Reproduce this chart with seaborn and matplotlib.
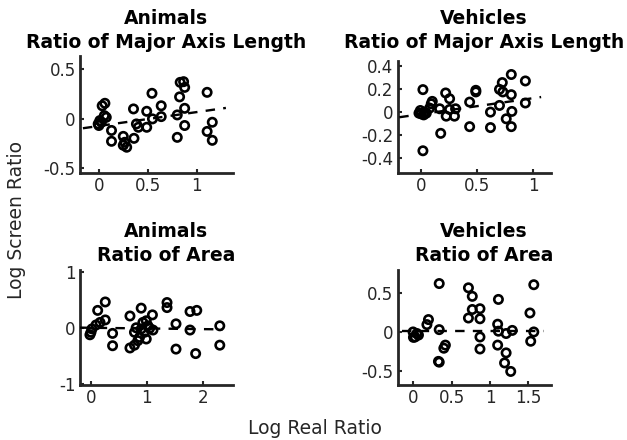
import numpy as np
import pandas as pd
import matplotlib
matplotlib.use("Agg")
import matplotlib.pyplot as plt
import seaborn as sns

# ---------------- data ----------------
# Animals - Ratio of Major Axis Length
a_len_x = [0.056, 0.028, 0.05, 0.07, 0.004, -0.013, 0.02, -0.006, 0.124, 0.124, 0.245, 0.26,
           0.245, 0.28, 0.355, 0.35, 0.38, 0.40, 0.486, 0.486, 0.54, 0.545, 0.635, 0.635,
           0.80, 0.80, 0.824, 0.83, 0.865, 0.876, 0.876, 0.876, 1.107, 1.16, 1.107, 1.16]
a_len_y = [0.155, 0.13, 0.03, 0.013, -0.02, -0.054, -0.037, -0.07, -0.12, -0.23, -0.18, -0.24,
           -0.27, -0.29, -0.20, 0.098, -0.054, -0.088, -0.088, 0.074, 0.256, -0.003, 0.13, 0.02,
           -0.19, 0.037, 0.22, 0.367, 0.374, 0.316, 0.104, -0.07, 0.266, -0.037, -0.13, -0.22]
a_len_fit = [-0.074, 0.14]          # intercept, slope
a_len_fit_x = [-0.17, 1.30]

# Vehicles - Ratio of Major Axis Length
v_len_x = [0.02, 0.02, -0.003, 0.005, 0.035, -0.015, 0.027, 0.05, 0.094, 0.103, 0.08, 0.169,
           0.178, 0.222, 0.257, 0.227, 0.257, 0.31, 0.30, 0.435, 0.435, 0.49, 0.49, 0.62,
           0.62, 0.70, 0.70, 0.725, 0.73, 0.805, 0.805, 0.81, 0.76, 0.805, 0.93, 0.93]
v_len_y = [0.195, -0.335, 0.014, -0.015, 0.0, -0.009, -0.024, -0.009, 0.072, 0.093, 0.035, 0.029,
           -0.184, 0.166, 0.116, -0.035, 0.023, 0.029, -0.035, 0.087, -0.126, 0.189, 0.175, 0.0,
           -0.134, 0.058, 0.197, 0.256, 0.175, 0.326, 0.151, 0.006, -0.058, -0.126, 0.27, 0.079]
v_len_fit = [-0.018, 0.139]
v_len_fit_x = [-0.19, 1.07]

# Animals - Ratio of Area
a_area_x = [0.26, 0.125, 0.26, 0.167, 0.095, 0.023, 0.005, -0.013, 0.39, 0.39, 0.70, 0.90,
            0.70, 0.78, 0.84, 0.78, 0.81, 0.87, 0.90, 0.93, 0.99, 0.96, 0.99, 1.02, 1.10,
            1.11, 1.05, 1.36, 1.36, 1.52, 1.52, 1.77, 1.89, 1.77, 1.87, 2.30, 2.30]
a_area_y = [0.46, 0.31, 0.14, 0.095, 0.05, -0.02, -0.08, -0.125, -0.10, -0.32, 0.21, 0.35,
            -0.36, -0.31, -0.23, -0.08, 0.0, -0.17, -0.02, 0.095, 0.125, -0.08, -0.20, 0.035, 0.23,
            -0.04, -0.01, 0.45, 0.36, 0.07, -0.38, 0.29, 0.31, -0.04, -0.46, 0.035, -0.31]
a_area_fit = [0.0, -0.012]
a_area_fit_x = [-0.19, 2.35]

# Vehicles - Ratio of Area
v_area_x = [0.34, 0.34, 0.42, 0.40, 0.34, 0.33, 0.20, 0.18, 0.0, 0.025, 0.07, 0.005, 0.05,
            0.72, 0.77, 0.77, 0.87, 0.72, 0.87, 0.87, 0.87, 1.11, 1.10, 1.11, 1.10, 1.21,
            1.29, 1.21, 1.19, 1.27, 1.57, 1.52, 1.57, 1.53]
v_area_y = [0.625, 0.03, -0.17, -0.21, -0.39, -0.38, 0.16, 0.095, 0.0, -0.065, -0.04, -0.07, -0.02,
            0.57, 0.46, 0.29, 0.30, 0.18, 0.17, -0.065, -0.22, 0.42, 0.10, 0.01, -0.17, -0.02,
            0.02, -0.27, -0.40, -0.51, 0.61, 0.245, 0.0, -0.12]
v_area_fit = [0.013, 0.0]
v_area_fit_x = [-0.15, 1.70]

titles = [("Animals", "Ratio of Major Axis Length"),
          ("Vehicles", "Ratio of Major Axis Length"),
          ("Animals", "Ratio of Area"),
          ("Vehicles", "Ratio of Area")]

xticks = [[0, 0.5, 1], [0, 0.5, 1], [0, 1, 2], [0, 0.5, 1, 1.5]]
yticks = [[-0.5, 0, 0.5], [-0.4, -0.2, 0, 0.2, 0.4], [-1, 0, 1], [-0.5, 0, 0.5]]
xlims = [(-0.2, 1.37), (-0.204, 1.155), (-0.19, 2.53), (-0.2, 1.79)]
ylims = [(-0.548, 0.634), (-0.525, 0.443), (-1.02, 1.03), (-0.685, 0.80)]

# ---------------- plot ----------------
sns.set_theme(style="white")
plt.rcParams['font.family'] = ['DejaVu Sans']

W, H = 627, 440
fig = plt.figure(figsize=(W / 100, H / 100), dpi=100)

# axes boxes in pixels: left, top, right, bottom
boxes = [(80, 56, 232.7, 172.7),
         (397.7, 61, 550.7, 172.7),
         (80, 270, 232.7, 385),
         (397.7, 270, 550.7, 385)]

datasets = [(a_len_x, a_len_y, a_len_fit, a_len_fit_x),
            (v_len_x, v_len_y, v_len_fit, v_len_fit_x),
            (a_area_x, a_area_y, a_area_fit, a_area_fit_x),
            (v_area_x, v_area_y, v_area_fit, v_area_fit_x)]

title_rows = [(18, 42.7), (18, 42.7), (231, 255), (231, 255)]
spine_col = "#262626"

for i, ((l, t, r, b), (xs, ys, fit, fx)) in enumerate(zip(boxes, datasets)):
    ax = fig.add_axes([l / W, 1 - b / H, (r - l) / W, (b - t) / H])
    df = pd.DataFrame({"x": xs, "y": ys})
    sns.scatterplot(data=df, x="x", y="y", ax=ax, marker="o", s=36,
                    facecolors="none", edgecolor="black", linewidth=1.9, zorder=3)
    lx = np.array(fx)
    ly = fit[0] + fit[1] * lx
    line_df = pd.DataFrame({"x": lx, "y": ly})
    sns.lineplot(data=line_df, x="x", y="y", ax=ax, color="black", linewidth=1.7,
                 linestyle=(0, (4, 3.5)), zorder=4)
    ax.set_xlim(*xlims[i])
    ax.set_ylim(*ylims[i])
    ax.set_xticks(xticks[i])
    ax.set_yticks(yticks[i])
    ax.set_xticklabels([f"{v:g}" for v in xticks[i]])
    ax.set_yticklabels([f"{v:g}" for v in yticks[i]])
    ax.set_xlabel("")
    ax.set_ylabel("")
    for side in ["top", "right"]:
        ax.spines[side].set_visible(False)
    for side in ["left", "bottom"]:
        ax.spines[side].set_linewidth(2.0)
        ax.spines[side].set_color(spine_col)
    ax.tick_params(direction="in", length=3, width=1.5, color=spine_col,
                   labelsize=12, labelcolor="#262626", pad=3,
                   left=True, bottom=True)
    ax.set_facecolor("white")
    xc = (l + r) / 2 + 9.5
    for txt, yc in zip(titles[i], title_rows[i]):
        fig.text(xc / W, 1 - yc / H, txt, ha="center", va="center",
                 fontsize=13.5, fontweight="bold", color="black")

fig.text(315 / W, 1 - 428 / H, "Log Real Ratio", ha="center", va="center",
         fontsize=13.5, color="#262626")
fig.text(16.5 / W, 1 - 220 / H, "Log Screen Ratio", ha="center", va="center",
         rotation=90, fontsize=13.5, color="#262626")

fig.savefig("out.png", dpi=100, facecolor="white")
